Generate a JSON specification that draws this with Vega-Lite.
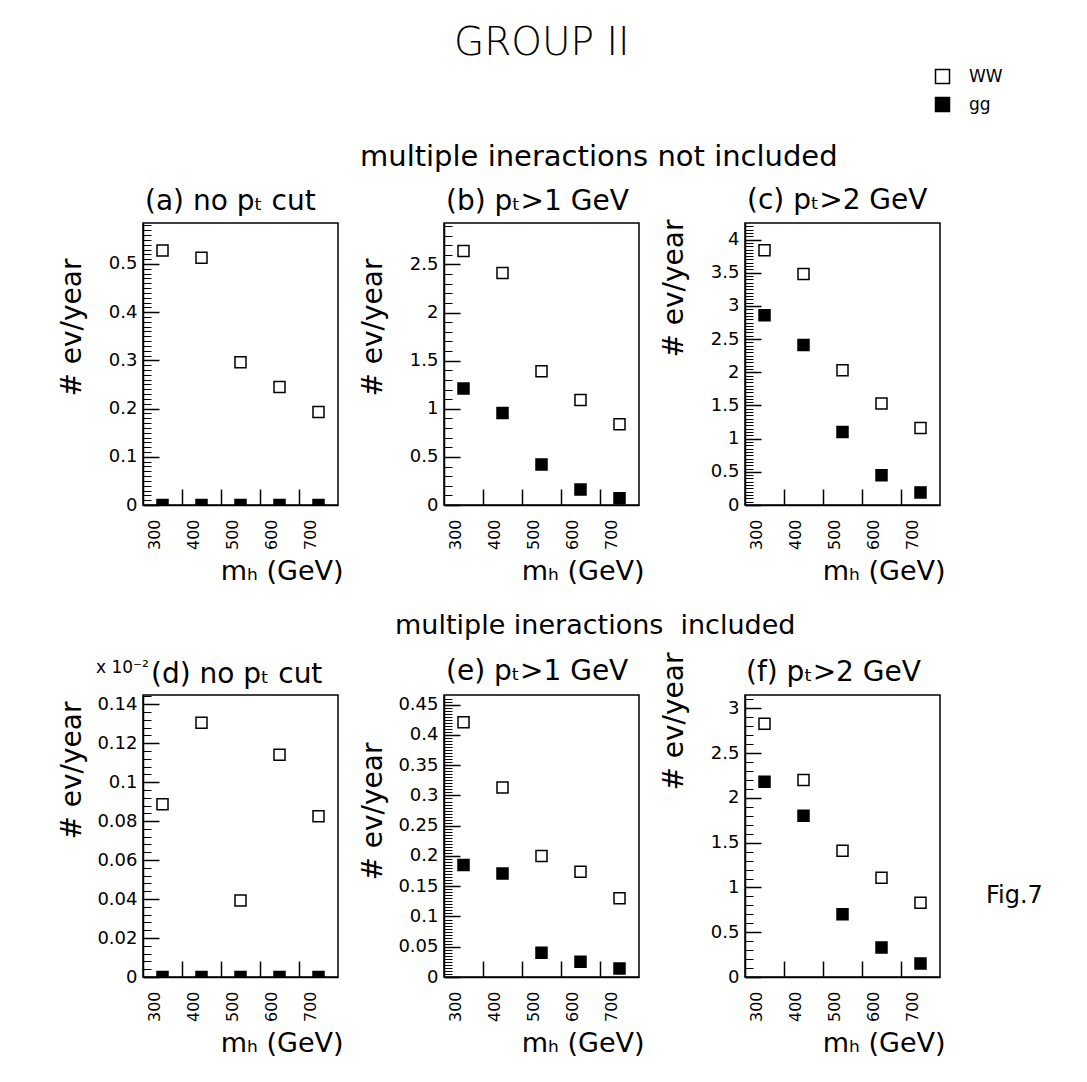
{
  "$schema": "https://vega.github.io/schema/vega-lite/v6.json",
  "background": "white",
  "padding": {"left": 57, "top": 24, "right": 5, "bottom": 5},
  "title": {"text": "GROUP II", "fontSize": 39, "fontWeight": 300, "anchor": "start", "frame": "group", "dx": 311, "dy": 113, "offset": 87, "baseline": "alphabetic"},
  "datasets": {
    "pts": [
      {"panel": "a", "mh": 300, "series": "WW", "value": 0.528},
      {"panel": "a", "mh": 400, "series": "WW", "value": 0.513},
      {"panel": "a", "mh": 500, "series": "WW", "value": 0.296},
      {"panel": "a", "mh": 600, "series": "WW", "value": 0.245},
      {"panel": "a", "mh": 700, "series": "WW", "value": 0.193},
      {"panel": "a", "mh": 300, "series": "gg", "value": 0},
      {"panel": "a", "mh": 400, "series": "gg", "value": 0},
      {"panel": "a", "mh": 500, "series": "gg", "value": 0},
      {"panel": "a", "mh": 600, "series": "gg", "value": 0},
      {"panel": "a", "mh": 700, "series": "gg", "value": 0},
      {"panel": "b", "mh": 300, "series": "WW", "value": 2.64},
      {"panel": "b", "mh": 400, "series": "WW", "value": 2.41},
      {"panel": "b", "mh": 500, "series": "WW", "value": 1.39},
      {"panel": "b", "mh": 600, "series": "WW", "value": 1.09},
      {"panel": "b", "mh": 700, "series": "WW", "value": 0.84},
      {"panel": "b", "mh": 300, "series": "gg", "value": 1.21},
      {"panel": "b", "mh": 400, "series": "gg", "value": 0.955},
      {"panel": "b", "mh": 500, "series": "gg", "value": 0.42},
      {"panel": "b", "mh": 600, "series": "gg", "value": 0.16},
      {"panel": "b", "mh": 700, "series": "gg", "value": 0.07},
      {"panel": "c", "mh": 300, "series": "WW", "value": 3.84},
      {"panel": "c", "mh": 400, "series": "WW", "value": 3.48},
      {"panel": "c", "mh": 500, "series": "WW", "value": 2.03},
      {"panel": "c", "mh": 600, "series": "WW", "value": 1.53},
      {"panel": "c", "mh": 700, "series": "WW", "value": 1.16},
      {"panel": "c", "mh": 300, "series": "gg", "value": 2.86},
      {"panel": "c", "mh": 400, "series": "gg", "value": 2.41},
      {"panel": "c", "mh": 500, "series": "gg", "value": 1.1},
      {"panel": "c", "mh": 600, "series": "gg", "value": 0.45},
      {"panel": "c", "mh": 700, "series": "gg", "value": 0.19},
      {"panel": "d", "mh": 300, "series": "WW", "value": 0.0886},
      {"panel": "d", "mh": 400, "series": "WW", "value": 0.1304},
      {"panel": "d", "mh": 500, "series": "WW", "value": 0.0393},
      {"panel": "d", "mh": 600, "series": "WW", "value": 0.114},
      {"panel": "d", "mh": 700, "series": "WW", "value": 0.0825},
      {"panel": "d", "mh": 300, "series": "gg", "value": 0},
      {"panel": "d", "mh": 400, "series": "gg", "value": 0},
      {"panel": "d", "mh": 500, "series": "gg", "value": 0},
      {"panel": "d", "mh": 600, "series": "gg", "value": 0},
      {"panel": "d", "mh": 700, "series": "gg", "value": 0},
      {"panel": "e", "mh": 300, "series": "WW", "value": 0.421},
      {"panel": "e", "mh": 400, "series": "WW", "value": 0.313},
      {"panel": "e", "mh": 500, "series": "WW", "value": 0.2},
      {"panel": "e", "mh": 600, "series": "WW", "value": 0.174},
      {"panel": "e", "mh": 700, "series": "WW", "value": 0.13},
      {"panel": "e", "mh": 300, "series": "gg", "value": 0.185},
      {"panel": "e", "mh": 400, "series": "gg", "value": 0.171},
      {"panel": "e", "mh": 500, "series": "gg", "value": 0.04},
      {"panel": "e", "mh": 600, "series": "gg", "value": 0.025},
      {"panel": "e", "mh": 700, "series": "gg", "value": 0.014},
      {"panel": "f", "mh": 300, "series": "WW", "value": 2.83},
      {"panel": "f", "mh": 400, "series": "WW", "value": 2.2},
      {"panel": "f", "mh": 500, "series": "WW", "value": 1.41},
      {"panel": "f", "mh": 600, "series": "WW", "value": 1.11},
      {"panel": "f", "mh": 700, "series": "WW", "value": 0.83},
      {"panel": "f", "mh": 300, "series": "gg", "value": 2.18},
      {"panel": "f", "mh": 400, "series": "gg", "value": 1.8},
      {"panel": "f", "mh": 500, "series": "gg", "value": 0.7},
      {"panel": "f", "mh": 600, "series": "gg", "value": 0.33},
      {"panel": "f", "mh": 700, "series": "gg", "value": 0.15}
    ]
  },
  "spacing": 472,
  "bounds": "flush",
  "vconcat": [
    {
      "title": {"text": "multiple ineractions not included", "anchor": "start", "frame": "group", "dx": 217, "dy": 29, "offset": 20, "baseline": "alphabetic", "fontSize": 29},
      "spacing": 106,
      "bounds": "flush",
      "hconcat": [
        {
          "width": 195, "height": 282,
          "title": {"text": "(a) no pₜ cut", "anchor": "start", "frame": "group", "dx": 2, "dy": 28, "offset": 13, "baseline": "alphabetic"},
          "data": {"name": "pts"},
          "transform": [{"filter": "datum.panel === 'a'"}],
          "layer": [
            {
              "mark": {"type": "point", "shape": "square", "size": 121, "filled": true, "stroke": "black", "strokeWidth": 1.5, "opacity": 1, "clip": true},
              "encoding": {
                "x": {"field": "mh", "type": "quantitative", "scale": {"domain": [250, 750], "nice": false, "zero": false},
                  "axis": {"values": [300, 400, 500, 600, 700], "format": "d", "ticks": false, "labelAngle": 270, "labelOffset": -8, "labelPadding": 14, "labelFontSize": 16, "title": "mₕ (GeV)", "titleX": 200, "titleY": 74, "titleAlign": "right", "titleBaseline": "alphabetic", "titleAngle": 0, "titleFontSize": 27}},
                "y": {"field": "value", "type": "quantitative", "scale": {"domain": [0, 0.585], "nice": false, "zero": false},
                  "axis": {"values": [0, 0.1, 0.2, 0.3, 0.4, 0.5], "format": "~g", "ticks": false, "title": "# ev/year", "titleX": -71, "titleY": 35, "titleAlign": "right", "titleBaseline": "middle", "titleAngle": 270}},
                "fill": {"field": "series", "type": "nominal", "scale": {"domain": ["WW", "gg"], "range": ["white", "black"]},
                  "legend": {"orient": "none", "legendX": 791, "legendY": -155, "title": null, "symbolType": "square", "symbolSize": 196, "symbolStrokeWidth": 1.5, "symbolStrokeColor": "black", "symbolOpacity": 1, "labelFontSize": 17, "labelOffset": 18, "rowPadding": 7, "padding": 0}}
              }
            },
            {
              "mark": {"type": "point", "opacity": 0},
              "encoding": {
                "x": {"field": "mh", "type": "quantitative", "axis": {"orient": "bottom", "values": [350, 450, 550, 650], "tickSize": -16, "tickWidth": 1.5, "labels": false, "domain": false, "title": null}},
                "y": {"field": "value", "type": "quantitative", "axis": {"orient": "left", "values": [0, 0.1, 0.2, 0.3, 0.4, 0.5], "tickSize": -16, "tickWidth": 1.5, "labels": false, "domain": false, "title": null}}
              }
            },
            {
              "mark": {"type": "point", "opacity": 0},
              "encoding": {
                "x": {"field": "mh", "type": "quantitative", "axis": null},
                "y": {"field": "value", "type": "quantitative", "axis": {"orient": "left", "values": [0.01,0.02,0.03,0.04,0.05,0.06,0.07,0.08,0.09,0.11,0.12,0.13,0.14,0.15,0.16,0.17,0.18,0.19,0.21,0.22,0.23,0.24,0.25,0.26,0.27,0.28,0.29,0.31,0.32,0.33,0.34,0.35,0.36,0.37,0.38,0.39,0.41,0.42,0.43,0.44,0.45,0.46,0.47,0.48,0.49,0.51,0.52,0.53,0.54,0.55,0.56,0.57,0.58], "tickSize": -8, "tickWidth": 1, "labels": false, "domain": false, "title": null}}
              }
            }
          ],
          "resolve": {"axis": {"x": "independent", "y": "independent"}}
        },
        {
          "width": 195, "height": 282,
          "title": {"text": "(b) pₜ>1 GeV", "anchor": "start", "frame": "group", "dx": 2, "dy": 28, "offset": 13, "baseline": "alphabetic"},
          "data": {"name": "pts"},
          "transform": [{"filter": "datum.panel === 'b'"}],
          "layer": [
            {
              "mark": {"type": "point", "shape": "square", "size": 121, "filled": true, "stroke": "black", "strokeWidth": 1.5, "opacity": 1, "clip": true},
              "encoding": {
                "x": {"field": "mh", "type": "quantitative", "scale": {"domain": [250, 750], "nice": false, "zero": false},
                  "axis": {"values": [300, 400, 500, 600, 700], "format": "d", "ticks": false, "labelAngle": 270, "labelOffset": -8, "labelPadding": 14, "labelFontSize": 16, "title": "mₕ (GeV)", "titleX": 200, "titleY": 74, "titleAlign": "right", "titleBaseline": "alphabetic", "titleAngle": 0, "titleFontSize": 27}},
                "y": {"field": "value", "type": "quantitative", "scale": {"domain": [0, 2.93], "nice": false, "zero": false},
                  "axis": {"values": [0, 0.5, 1, 1.5, 2, 2.5], "format": "~g", "ticks": false, "title": "# ev/year", "titleX": -71, "titleY": 35, "titleAlign": "right", "titleBaseline": "middle", "titleAngle": 270}},
                "fill": {"field": "series", "type": "nominal", "scale": {"domain": ["WW", "gg"], "range": ["white", "black"]},
                  "legend": {"orient": "none", "legendX": 791, "legendY": -155, "title": null, "symbolType": "square", "symbolSize": 196, "symbolStrokeWidth": 1.5, "symbolStrokeColor": "black", "symbolOpacity": 1, "labelFontSize": 17, "labelOffset": 18, "rowPadding": 7, "padding": 0}}
              }
            },
            {
              "mark": {"type": "point", "opacity": 0},
              "encoding": {
                "x": {"field": "mh", "type": "quantitative", "axis": {"orient": "bottom", "values": [350, 450, 550, 650], "tickSize": -16, "tickWidth": 1.5, "labels": false, "domain": false, "title": null}},
                "y": {"field": "value", "type": "quantitative", "axis": {"orient": "left", "values": [0, 0.5, 1, 1.5, 2, 2.5], "tickSize": -16, "tickWidth": 1.5, "labels": false, "domain": false, "title": null}}
              }
            },
            {
              "mark": {"type": "point", "opacity": 0},
              "encoding": {
                "x": {"field": "mh", "type": "quantitative", "axis": null},
                "y": {"field": "value", "type": "quantitative", "axis": {"orient": "left", "values": [0.1,0.2,0.3,0.4,0.6,0.7,0.8,0.9,1.1,1.2,1.3,1.4,1.6,1.7,1.8,1.9,2.1,2.2,2.3,2.4,2.6,2.7,2.8,2.9], "tickSize": -8, "tickWidth": 1, "labels": false, "domain": false, "title": null}}
              }
            }
          ],
          "resolve": {"axis": {"x": "independent", "y": "independent"}}
        },
        {
          "width": 195, "height": 282,
          "title": {"text": "(c) pₜ>2 GeV", "anchor": "start", "frame": "group", "dx": 2, "dy": 28, "offset": 10, "baseline": "alphabetic"},
          "data": {"name": "pts"},
          "transform": [{"filter": "datum.panel === 'c'"}],
          "layer": [
            {
              "mark": {"type": "point", "shape": "square", "size": 121, "filled": true, "stroke": "black", "strokeWidth": 1.5, "opacity": 1, "clip": true},
              "encoding": {
                "x": {"field": "mh", "type": "quantitative", "scale": {"domain": [250, 750], "nice": false, "zero": false},
                  "axis": {"values": [300, 400, 500, 600, 700], "format": "d", "ticks": false, "labelAngle": 270, "labelOffset": -8, "labelPadding": 14, "labelFontSize": 16, "title": "mₕ (GeV)", "titleX": 200, "titleY": 74, "titleAlign": "right", "titleBaseline": "alphabetic", "titleAngle": 0, "titleFontSize": 27}},
                "y": {"field": "value", "type": "quantitative", "scale": {"domain": [0, 4.25], "nice": false, "zero": false},
                  "axis": {"values": [0, 0.5, 1, 1.5, 2, 2.5, 3, 3.5, 4], "format": "~g", "ticks": false, "title": "# ev/year", "titleX": -71, "titleY": -4, "titleAlign": "right", "titleBaseline": "middle", "titleAngle": 270}},
                "fill": {"field": "series", "type": "nominal", "scale": {"domain": ["WW", "gg"], "range": ["white", "black"]},
                  "legend": {"orient": "none", "legendX": 791, "legendY": -155, "title": null, "symbolType": "square", "symbolSize": 196, "symbolStrokeWidth": 1.5, "symbolStrokeColor": "black", "symbolOpacity": 1, "labelFontSize": 17, "labelOffset": 18, "rowPadding": 7, "padding": 0}}
              }
            },
            {
              "mark": {"type": "point", "opacity": 0},
              "encoding": {
                "x": {"field": "mh", "type": "quantitative", "axis": {"orient": "bottom", "values": [350, 450, 550, 650], "tickSize": -16, "tickWidth": 1.5, "labels": false, "domain": false, "title": null}},
                "y": {"field": "value", "type": "quantitative", "axis": {"orient": "left", "values": [0, 0.5, 1, 1.5, 2, 2.5, 3, 3.5, 4], "tickSize": -16, "tickWidth": 1.5, "labels": false, "domain": false, "title": null}}
              }
            },
            {
              "mark": {"type": "point", "opacity": 0},
              "encoding": {
                "x": {"field": "mh", "type": "quantitative", "axis": null},
                "y": {"field": "value", "type": "quantitative", "axis": {"orient": "left", "values": [0.05,0.1,0.15,0.2,0.25,0.3,0.35,0.4,0.45,0.55,0.6,0.65,0.7,0.75,0.8,0.85,0.9,0.95,1.05,1.1,1.15,1.2,1.25,1.3,1.35,1.4,1.45,1.55,1.6,1.65,1.7,1.75,1.8,1.85,1.9,1.95,2.05,2.1,2.15,2.2,2.25,2.3,2.35,2.4,2.45,2.55,2.6,2.65,2.7,2.75,2.8,2.85,2.9,2.95,3.05,3.1,3.15,3.2,3.25,3.3,3.35,3.4,3.45,3.55,3.6,3.65,3.7,3.75,3.8,3.85,3.9,3.95,4.05,4.1,4.15,4.2], "tickSize": -8, "tickWidth": 1, "labels": false, "domain": false, "title": null}}
              }
            }
          ],
          "resolve": {"axis": {"x": "independent", "y": "independent"}}
        }
      ]
    },
    {
      "title": {"text": "multiple ineractions\u00a0 included", "anchor": "start", "frame": "group", "dx": 252, "dy": 30, "offset": 20, "baseline": "alphabetic", "fontSize": 27},
      "spacing": 106,
      "bounds": "flush",
      "hconcat": [
        {
          "width": 195, "height": 282,
          "title": {"text": "(d) no pₜ cut", "anchor": "start", "frame": "group", "dx": 8, "dy": 26, "offset": -26, "baseline": "alphabetic"},
          "data": {"name": "pts"},
          "transform": [{"filter": "datum.panel === 'd'"}],
          "layer": [
            {
              "mark": {"type": "point", "shape": "square", "size": 121, "filled": true, "stroke": "black", "strokeWidth": 1.5, "opacity": 1, "clip": true},
              "encoding": {
                "x": {"field": "mh", "type": "quantitative", "scale": {"domain": [250, 750], "nice": false, "zero": false},
                  "axis": {"values": [300, 400, 500, 600, 700], "format": "d", "ticks": false, "labelAngle": 270, "labelOffset": -8, "labelPadding": 14, "labelFontSize": 16, "title": "mₕ (GeV)", "titleX": 200, "titleY": 74, "titleAlign": "right", "titleBaseline": "alphabetic", "titleAngle": 0, "titleFontSize": 27}},
                "y": {"field": "value", "type": "quantitative", "scale": {"domain": [0, 0.1447], "nice": false, "zero": false},
                  "axis": {"values": [0, 0.02, 0.04, 0.06, 0.08, 0.1, 0.12, 0.14], "format": "~g", "ticks": false, "title": "# ev/year", "titleX": -71, "titleY": 6, "titleAlign": "right", "titleBaseline": "middle", "titleAngle": 270}},
                "fill": {"field": "series", "type": "nominal", "scale": {"domain": ["WW", "gg"], "range": ["white", "black"]},
                  "legend": {"orient": "none", "legendX": 791, "legendY": -155, "title": null, "symbolType": "square", "symbolSize": 196, "symbolStrokeWidth": 1.5, "symbolStrokeColor": "black", "symbolOpacity": 1, "labelFontSize": 17, "labelOffset": 18, "rowPadding": 7, "padding": 0}}
              }
            },
            {
              "mark": {"type": "point", "opacity": 0},
              "encoding": {
                "x": {"field": "mh", "type": "quantitative", "axis": {"orient": "bottom", "values": [350, 450, 550, 650], "tickSize": -16, "tickWidth": 1.5, "labels": false, "domain": false, "title": null}},
                "y": {"field": "value", "type": "quantitative", "axis": {"orient": "left", "values": [0, 0.02, 0.04, 0.06, 0.08, 0.1, 0.12, 0.14], "tickSize": -16, "tickWidth": 1.5, "labels": false, "domain": false, "title": null}}
              }
            },
            {
              "mark": {"type": "point", "opacity": 0},
              "encoding": {
                "x": {"field": "mh", "type": "quantitative", "axis": null},
                "y": {"field": "value", "type": "quantitative", "axis": {"orient": "left", "values": [0.004,0.008,0.012,0.016,0.024,0.028,0.032,0.036,0.044,0.048,0.052,0.056,0.064,0.068,0.072,0.076,0.084,0.088,0.092,0.096,0.104,0.108,0.112,0.116,0.124,0.128,0.132,0.136,0.144], "tickSize": -8, "tickWidth": 1, "labels": false, "domain": false, "title": null}}
              }
            },
            {
              "data": {"values": [{"label": "x 10⁻²"}]},
              "mark": {"type": "text", "align": "right", "baseline": "alphabetic", "fontSize": 17, "color": "black"},
              "encoding": {
                "text": {"field": "label", "type": "nominal"},
                "x": {"datum": 265, "type": "quantitative", "axis": null},
                "y": {"datum": 0.156, "type": "quantitative", "axis": null}
              }
            }
          ],
          "resolve": {"axis": {"x": "independent", "y": "independent"}}
        },
        {
          "width": 195, "height": 282,
          "title": {"text": "(e) pₜ>1 GeV", "anchor": "start", "frame": "group", "dx": 2, "dy": 26, "offset": 13, "baseline": "alphabetic"},
          "data": {"name": "pts"},
          "transform": [{"filter": "datum.panel === 'e'"}],
          "layer": [
            {
              "mark": {"type": "point", "shape": "square", "size": 121, "filled": true, "stroke": "black", "strokeWidth": 1.5, "opacity": 1, "clip": true},
              "encoding": {
                "x": {"field": "mh", "type": "quantitative", "scale": {"domain": [250, 750], "nice": false, "zero": false},
                  "axis": {"values": [300, 400, 500, 600, 700], "format": "d", "ticks": false, "labelAngle": 270, "labelOffset": -8, "labelPadding": 14, "labelFontSize": 16, "title": "mₕ (GeV)", "titleX": 200, "titleY": 74, "titleAlign": "right", "titleBaseline": "alphabetic", "titleAngle": 0, "titleFontSize": 27}},
                "y": {"field": "value", "type": "quantitative", "scale": {"domain": [0, 0.466], "nice": false, "zero": false},
                  "axis": {"values": [0, 0.05, 0.1, 0.15, 0.2, 0.25, 0.3, 0.35, 0.4, 0.45], "format": "~g", "ticks": false, "title": "# ev/year", "titleX": -71, "titleY": 47, "titleAlign": "right", "titleBaseline": "middle", "titleAngle": 270}},
                "fill": {"field": "series", "type": "nominal", "scale": {"domain": ["WW", "gg"], "range": ["white", "black"]},
                  "legend": {"orient": "none", "legendX": 791, "legendY": -155, "title": null, "symbolType": "square", "symbolSize": 196, "symbolStrokeWidth": 1.5, "symbolStrokeColor": "black", "symbolOpacity": 1, "labelFontSize": 17, "labelOffset": 18, "rowPadding": 7, "padding": 0}}
              }
            },
            {
              "mark": {"type": "point", "opacity": 0},
              "encoding": {
                "x": {"field": "mh", "type": "quantitative", "axis": {"orient": "bottom", "values": [350, 450, 550, 650], "tickSize": -16, "tickWidth": 1.5, "labels": false, "domain": false, "title": null}},
                "y": {"field": "value", "type": "quantitative", "axis": {"orient": "left", "values": [0, 0.05, 0.1, 0.15, 0.2, 0.25, 0.3, 0.35, 0.4, 0.45], "tickSize": -16, "tickWidth": 1.5, "labels": false, "domain": false, "title": null}}
              }
            },
            {
              "mark": {"type": "point", "opacity": 0},
              "encoding": {
                "x": {"field": "mh", "type": "quantitative", "axis": null},
                "y": {"field": "value", "type": "quantitative", "axis": {"orient": "left", "values": [0.005,0.01,0.015,0.02,0.025,0.03,0.035,0.04,0.045,0.055,0.06,0.065,0.07,0.075,0.08,0.085,0.09,0.095,0.105,0.11,0.115,0.12,0.125,0.13,0.135,0.14,0.145,0.155,0.16,0.165,0.17,0.175,0.18,0.185,0.19,0.195,0.205,0.21,0.215,0.22,0.225,0.23,0.235,0.24,0.245,0.255,0.26,0.265,0.27,0.275,0.28,0.285,0.29,0.295,0.305,0.31,0.315,0.32,0.325,0.33,0.335,0.34,0.345,0.355,0.36,0.365,0.37,0.375,0.38,0.385,0.39,0.395,0.405,0.41,0.415,0.42,0.425,0.43,0.435,0.44,0.445,0.455,0.46], "tickSize": -8, "tickWidth": 1, "labels": false, "domain": false, "title": null}}
              }
            }
          ],
          "resolve": {"axis": {"x": "independent", "y": "independent"}}
        },
        {
          "width": 195, "height": 282,
          "title": {"text": "(f) pₜ>2 GeV", "anchor": "start", "frame": "group", "dx": 1, "dy": 26, "offset": -31, "baseline": "alphabetic"},
          "data": {"name": "pts"},
          "transform": [{"filter": "datum.panel === 'f'"}],
          "layer": [
            {
              "mark": {"type": "point", "shape": "square", "size": 121, "filled": true, "stroke": "black", "strokeWidth": 1.5, "opacity": 1, "clip": true},
              "encoding": {
                "x": {"field": "mh", "type": "quantitative", "scale": {"domain": [250, 750], "nice": false, "zero": false},
                  "axis": {"values": [300, 400, 500, 600, 700], "format": "d", "ticks": false, "labelAngle": 270, "labelOffset": -8, "labelPadding": 14, "labelFontSize": 16, "title": "mₕ (GeV)", "titleX": 200, "titleY": 74, "titleAlign": "right", "titleBaseline": "alphabetic", "titleAngle": 0, "titleFontSize": 27}},
                "y": {"field": "value", "type": "quantitative", "scale": {"domain": [0, 3.15], "nice": false, "zero": false},
                  "axis": {"values": [0, 0.5, 1, 1.5, 2, 2.5, 3], "format": "~g", "ticks": false, "title": "# ev/year", "titleX": -71, "titleY": -43, "titleAlign": "right", "titleBaseline": "middle", "titleAngle": 270}},
                "fill": {"field": "series", "type": "nominal", "scale": {"domain": ["WW", "gg"], "range": ["white", "black"]},
                  "legend": {"orient": "none", "legendX": 791, "legendY": -155, "title": null, "symbolType": "square", "symbolSize": 196, "symbolStrokeWidth": 1.5, "symbolStrokeColor": "black", "symbolOpacity": 1, "labelFontSize": 17, "labelOffset": 18, "rowPadding": 7, "padding": 0}}
              }
            },
            {
              "mark": {"type": "point", "opacity": 0},
              "encoding": {
                "x": {"field": "mh", "type": "quantitative", "axis": {"orient": "bottom", "values": [350, 450, 550, 650], "tickSize": -16, "tickWidth": 1.5, "labels": false, "domain": false, "title": null}},
                "y": {"field": "value", "type": "quantitative", "axis": {"orient": "left", "values": [0, 0.5, 1, 1.5, 2, 2.5, 3], "tickSize": -16, "tickWidth": 1.5, "labels": false, "domain": false, "title": null}}
              }
            },
            {
              "mark": {"type": "point", "opacity": 0},
              "encoding": {
                "x": {"field": "mh", "type": "quantitative", "axis": null},
                "y": {"field": "value", "type": "quantitative", "axis": {"orient": "left", "values": [0.1,0.2,0.3,0.4,0.6,0.7,0.8,0.9,1.1,1.2,1.3,1.4,1.6,1.7,1.8,1.9,2.1,2.2,2.3,2.4,2.6,2.7,2.8,2.9,3.1], "tickSize": -8, "tickWidth": 1, "labels": false, "domain": false, "title": null}}
              }
            },
            {
              "data": {"values": [{"label": "Fig.7"}]},
              "mark": {"type": "text", "align": "left", "baseline": "alphabetic", "fontSize": 24, "color": "black"},
              "encoding": {
                "text": {"field": "label", "type": "nominal"},
                "x": {"datum": 868, "type": "quantitative", "axis": null},
                "y": {"datum": 0.83, "type": "quantitative", "axis": null}
              }
            }
          ],
          "resolve": {"axis": {"x": "independent", "y": "independent"}}
        }
      ]
    }
  ],
  "config": {
    "font": "DejaVu Sans",
    "view": {"stroke": "black", "strokeWidth": 1.5},
    "axis": {"grid": false, "domainColor": "black", "domainWidth": 1.5, "tickColor": "black", "labelColor": "black", "titleColor": "black", "labelFontSize": 18, "titleFontSize": 28, "titleFontWeight": "normal", "labelFont": "DejaVu Sans", "titleFont": "DejaVu Sans", "labelFlush": false, "labelOverlap": false, "labelPadding": 6},
    "title": {"font": "DejaVu Sans", "fontSize": 28, "fontWeight": "normal", "color": "black"},
    "legend": {"labelFont": "DejaVu Sans", "labelColor": "black"}
  }
}
